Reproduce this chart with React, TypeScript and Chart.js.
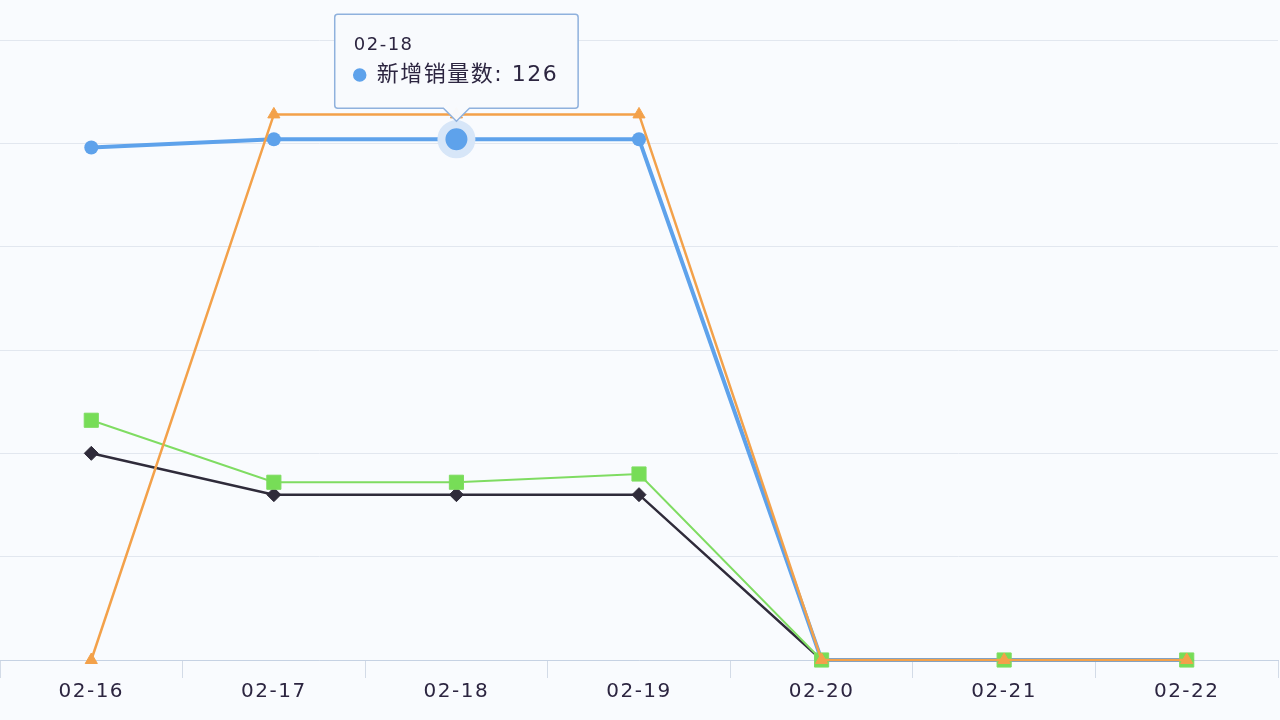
import React, { useEffect, useRef } from "react";
import { Chart, registerables } from "chart.js";

Chart.register(...registerables);

const categories = ["02-16", "02-17", "02-18", "02-19", "02-20", "02-21", "02-22"];
const seriesNames = ["新增订单数", "新增客户数", "新增销量数", "新增退货数"];
const orangeValues = [0, 132, 132, 132, 0, 0, 0];
const greenValues = [58, 43, 43, 45, 0, 0, 0];
const blueValues = [124, 126, 126, 126, 0, 0, 0];
const blackValues = [50, 40, 40, 40, 0, 0, 0];
const yMax = 150;
const yStep = 25;
const activeIndex = 2;

const FONT = '"DejaVu Sans", "Noto Sans CJK SC", sans-serif';
const TEXT = "#2c2540";

const spacingPlugin = {
  id: "letterSpacing",
  beforeUpdate(chart: any) {
    (chart.ctx as any).letterSpacing = "1.5px";
  },
  beforeDraw(chart: any) {
    (chart.ctx as any).letterSpacing = "1.5px";
  },
};

export default function App() {
  const ref = useRef<HTMLCanvasElement | null>(null);

  useEffect(() => {
    if (!ref.current) return;
    const chart = new Chart(ref.current, {
      type: "line",
      data: {
        labels: categories,
        datasets: [
          {
            label: seriesNames[0],
            data: orangeValues,
            borderColor: "#f3a14a",
            backgroundColor: "#f3a14a",
            borderWidth: 2.5,
            pointStyle: "triangle",
            pointRadius: 7,
            pointBorderWidth: 1,
            clip: false,
          },
          {
            label: seriesNames[1],
            data: greenValues,
            borderColor: "#7fdc62",
            backgroundColor: "#77dd57",
            borderWidth: 2,
            pointStyle: "rect",
            pointRadius: 10,
            pointBorderWidth: 1,
            clip: false,
          },
          {
            label: seriesNames[2],
            data: blueValues,
            borderColor: "#5ea2eb",
            backgroundColor: "#5ea2eb",
            borderWidth: 4,
            pointStyle: "circle",
            pointRadius: 7,
            pointBorderWidth: 0,
            pointHoverRadius: 15,
            pointHoverBorderWidth: 8,
            pointHoverBackgroundColor: "#5ea2eb",
            pointHoverBorderColor: "#d7e6f8",
            clip: false,
          },
          {
            label: seriesNames[3],
            data: blackValues,
            borderColor: "#2f2b3a",
            backgroundColor: "#2f2b3a",
            borderWidth: 2.5,
            pointStyle: "rectRot",
            pointRadius: 7,
            pointBorderWidth: 1,
            clip: false,
          },
        ],
      },
      options: {
        animation: false,
        responsive: true,
        maintainAspectRatio: false,
        events: [],
        layout: { autoPadding: false, padding: { top: 40, left: 0, right: 2, bottom: 14 } },
        elements: { line: { tension: 0 } },
        scales: {
          x: {
            offset: true,
            grid: {
              drawOnChartArea: false,
              drawTicks: true,
              tickLength: 18,
              color: "#d3dbe7",
              offset: true,
            },
            border: { color: "#c6d2e3", width: 1 },
            ticks: {
              color: TEXT,
              padding: 2,
              font: { family: FONT, size: 20 },
            },
          },
          y: {
            min: 0,
            max: yMax,
            ticks: { display: false, stepSize: yStep },
            grid: { color: "#e2e7ef", drawTicks: false, lineWidth: 1 },
            border: { display: false },
          },
        },
        plugins: {
          legend: { display: false },
          tooltip: {
            enabled: true,
            backgroundColor: "rgba(248,250,253,0.98)",
            borderColor: "#8fb1dd",
            borderWidth: 1.5,
            cornerRadius: 3,
            titleColor: TEXT,
            bodyColor: TEXT,
            titleFont: { family: FONT, size: 18, weight: "normal" },
            bodyFont: { family: FONT, size: 22 },
            titleMarginBottom: 6,
            padding: { top: 20, bottom: 20, left: 19, right: 20 },
            caretSize: 13,
            caretPadding: 18,
            usePointStyle: true,
            boxWidth: 12,
            boxHeight: 12,
            boxPadding: 9,
            yAlign: "bottom",
            xAlign: "center",
            multiKeyBackground: "rgba(0,0,0,0)",
            displayColors: true,
          },
        },
      } as any,
      plugins: [spacingPlugin],
    });

    const active = [{ datasetIndex: 2, index: activeIndex }];
    chart.setActiveElements(active);
    chart.tooltip?.setActiveElements(active, { x: 0, y: 0 });
    chart.update();

    return () => chart.destroy();
  }, []);

  return (
    <div
      style={{
        position: "absolute",
        left: 0,
        top: 0,
        width: 1280,
        height: 720,
        background: "#f9fbfe",
      }}
    >
      <canvas ref={ref} />
    </div>
  );
}
